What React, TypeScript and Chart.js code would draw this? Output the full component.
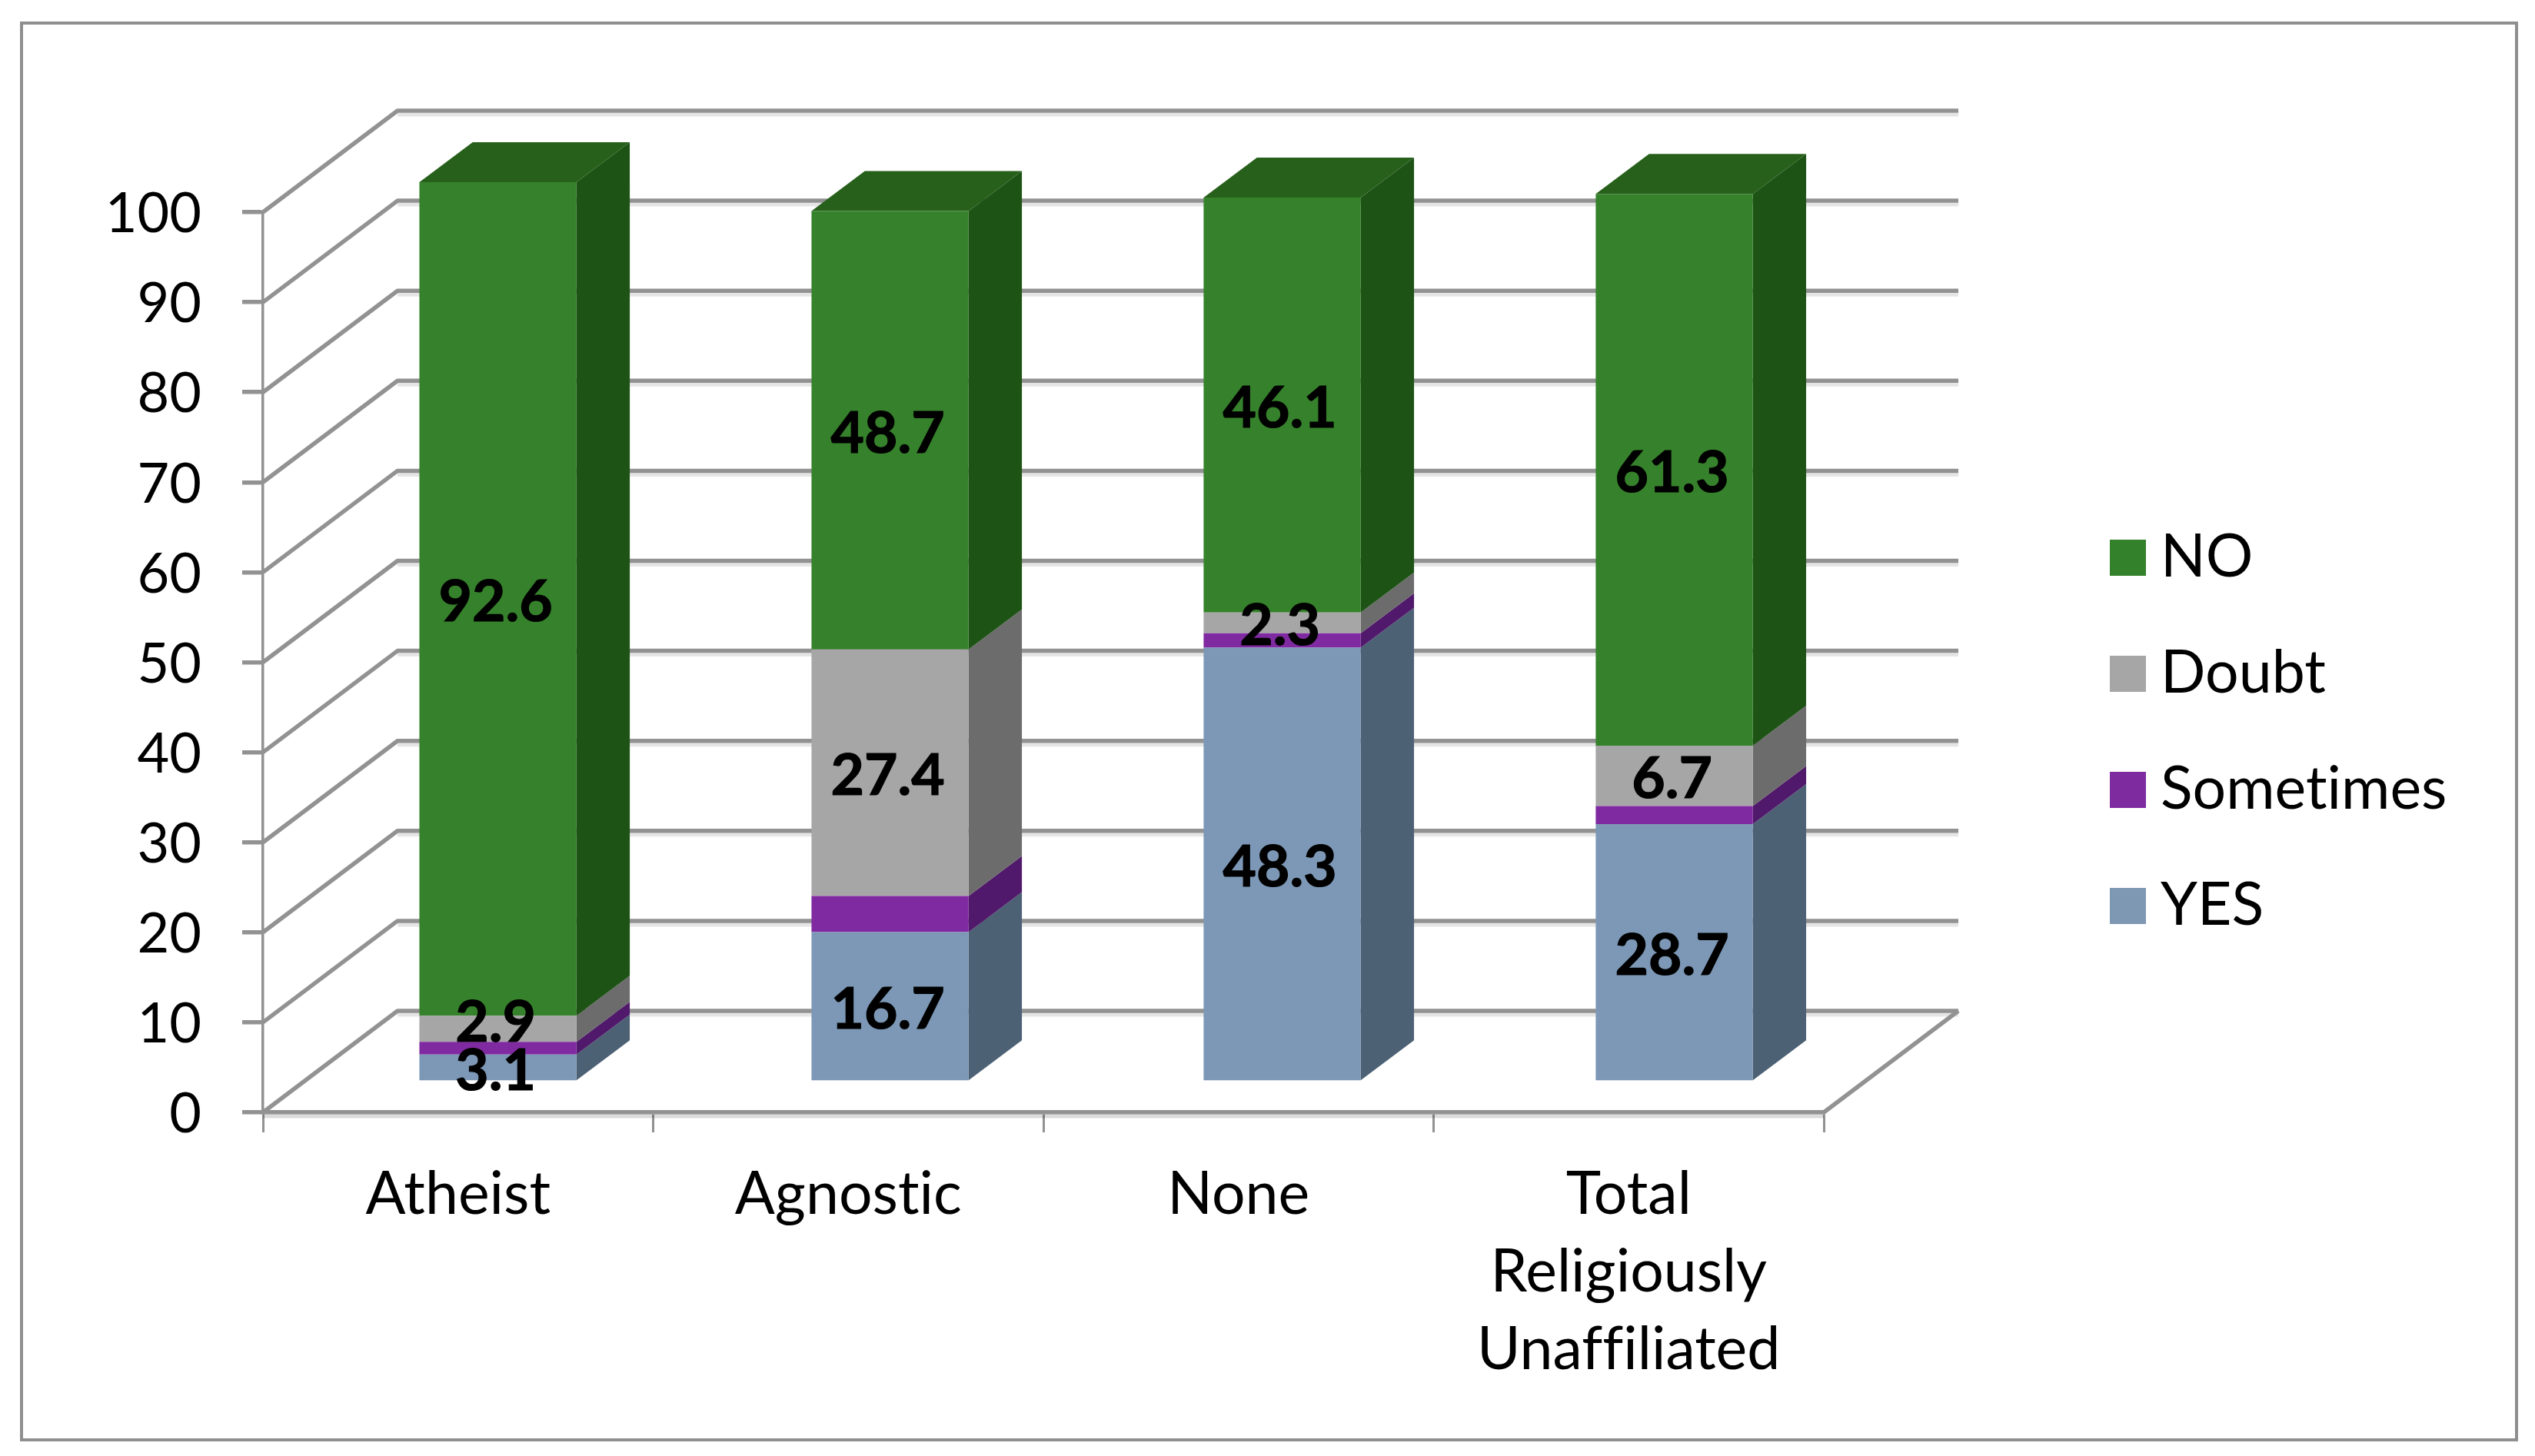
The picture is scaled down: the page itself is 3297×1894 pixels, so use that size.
import React, { useEffect, useRef } from "react";
import { Chart, registerables } from "chart.js";

Chart.register(...registerables);

const categories = ["Atheist", "Agnostic", "None", ["Total", "Religiously", "Unaffiliated"]];
const yesValues = [3.1, 16.7, 48.3, 28.7];
const sometimesValues = [1.4, 4.0, 1.6, 2.0];
const doubtValues = [2.9, 27.4, 2.3, 6.7];
const noValues = [92.6, 48.7, 46.1, 61.3];

const FONT = "Lato";
const GRID = "#929292";
const WALL_DX = 175;
const WALL_DY = -132;
const BAR_DX = 50.6;
const BAR_DY = -39;
const BAR_X_SCALE = 1.0049;
const SIDE_DX = 69;
const SIDE_DY = -52;

const polygon = (ctx: CanvasRenderingContext2D, pts: number[][], fill: string) => {
  ctx.beginPath();
  pts.forEach((p, i) => (i ? ctx.lineTo(p[0], p[1]) : ctx.moveTo(p[0], p[1])));
  ctx.closePath();
  ctx.fillStyle = fill;
  ctx.fill();
};

const stroke = (ctx: CanvasRenderingContext2D, pts: number[][], color: string, width: number) => {
  ctx.beginPath();
  pts.forEach((p, i) => (i ? ctx.lineTo(p[0], p[1]) : ctx.moveTo(p[0], p[1])));
  ctx.strokeStyle = color;
  ctx.lineWidth = width;
  ctx.lineJoin = "round";
  ctx.stroke();
};

const framePlugin = {
  id: "frame",
  beforeDraw(chart: any) {
    const { ctx, width, height } = chart;
    ctx.save();
    ctx.fillStyle = "#ffffff";
    ctx.fillRect(0, 0, width, height);
    ctx.strokeStyle = "#8f8f8f";
    ctx.lineWidth = 4;
    ctx.strokeRect(28, 30, 3245, 1843);
    ctx.restore();
    // A tiny spacing turns off Lato's "ti" ligature for all canvas text.
    ctx.letterSpacing = "0.01px";
  },
};

const walls3dPlugin = {
  id: "walls3d",
  beforeDatasetsDraw(chart: any) {
    const { ctx, chartArea, scales } = chart;
    const { left, right } = chartArea;
    ctx.save();
    scales.y.ticks.forEach((t: any) => {
      const y = scales.y.getPixelForValue(t.value);
      const backY = y + WALL_DY;
      stroke(ctx, [[left + WALL_DX, backY + 5], [right + WALL_DX, backY + 5]], "rgba(0,0,0,0.10)", 5);
      stroke(ctx, [[left, y], [left + WALL_DX, backY], [right + WALL_DX, backY]], GRID, 5.5);
    });
    const y0 = scales.y.getPixelForValue(0);
    stroke(ctx, [[right, y0], [right + WALL_DX, y0 + WALL_DY]], GRID, 5.5);
    stroke(ctx, [[left, y0 + 5], [right, y0 + 5]], "rgba(0,0,0,0.14)", 5);
    ctx.restore();

    ctx.save();
    ctx.translate(left + BAR_DX, BAR_DY);
    ctx.scale(BAR_X_SCALE, 1);
    ctx.translate(-left, 0);
    const sets = chart.data.datasets;
    sets.forEach((ds: any, di: number) => {
      chart.getDatasetMeta(di).data.forEach((bar: any) => {
        const { x, y, base, width } = bar.getProps(["x", "y", "base", "width"], true);
        const r = x + width / 2;
        const l = x - width / 2;
        polygon(
          ctx,
          [[r, y], [r + SIDE_DX, y + SIDE_DY], [r + SIDE_DX, base + SIDE_DY], [r, base]],
          ds.sideColor
        );
        if (di === sets.length - 1) {
          polygon(ctx, [[l, y], [l + SIDE_DX, y + SIDE_DY], [r + SIDE_DX, y + SIDE_DY], [r, y]], ds.topColor);
        }
      });
    });
    // The front faces are drawn by Chart.js inside this same shifted frame.
  },
  afterDatasetsDraw(chart: any) {
    const { ctx, width, chartArea } = chart;
    ctx.restore();

    ctx.save();
    ctx.fillStyle = "#000000";
    ctx.strokeStyle = "#000000";
    ctx.lineWidth = 1.2;
    ctx.font = `bold 75px ${FONT}`;
    ctx.textAlign = "center";
    ctx.textBaseline = "middle";
    chart.data.datasets.forEach((ds: any, di: number) => {
      if (!ds.showValue) return;
      chart.getDatasetMeta(di).data.forEach((bar: any, i: number) => {
        const { x, y, base } = bar.getProps(["x", "y", "base"], true);
        const small = ds.data[i] === 2.9 ? -13 : 0;
        const px = chartArea.left + BAR_DX + (x - chartArea.left) * BAR_X_SCALE;
        const text = ds.data[i].toFixed(1);
        const py = (y + base) / 2 + BAR_DY + 5 + small;
        ctx.fillText(text, px - 3, py);
        ctx.strokeText(text, px - 3, py);
      });
    });

    // legend, reversed series order as in the reference
    const legendLeft = width - 553;
    ctx.textAlign = "left";
    ctx.font = `77px ${FONT}`;
    [...chart.data.datasets].reverse().forEach((ds: any, i: number) => {
      const top = 702 + i * 151;
      ctx.fillStyle = ds.legendColor;
      ctx.fillRect(legendLeft, top, 47, 47);
      ctx.fillStyle = "#000000";
      ctx.fillText(ds.label, legendLeft + 66, top + 23);
    });
    ctx.restore();
  },
};

export default function App() {
  const ref = useRef<HTMLCanvasElement>(null);
  useEffect(() => {
    const bar = { barPercentage: 0.4006, categoryPercentage: 1, borderWidth: 0, clip: false as any };
    const chart = new Chart(ref.current!, {
      type: "bar",
      data: {
        labels: categories as any,
        datasets: [
          { label: "YES", data: yesValues, backgroundColor: "#7c98b6", legendColor: "#7e98b3", sideColor: "#4d6175", showValue: true, ...bar },
          { label: "Sometimes", data: sometimesValues, backgroundColor: "#802aa1", legendColor: "#7f2ba0", sideColor: "#50196b", showValue: false, ...bar },
          { label: "Doubt", data: doubtValues, backgroundColor: "#a6a6a6", legendColor: "#a6a6a6", sideColor: "#6c6c6c", showValue: true, ...bar },
          { label: "NO", data: noValues, backgroundColor: "#36812b", legendColor: "#33812b", sideColor: "#1e5316", topColor: "#27601b", showValue: true, ...bar },
        ] as any,
      },
      options: {
        responsive: false,
        devicePixelRatio: 1,
        animation: false,
        layout: { padding: { left: 0, top: 276, right: 925, bottom: 0 } },
        plugins: { legend: { display: false }, tooltip: { enabled: false } },
        scales: {
          x: {
            stacked: true,
            afterFit: (s: any) => { s.height = 447; },
            border: { color: GRID, width: 5.5 },
            grid: { offset: true, drawOnChartArea: false, color: GRID, tickLength: 26, lineWidth: 3 },
            ticks: {
              color: "#000000",
              padding: 31,
              maxRotation: 0,
              font: { family: FONT, size: 77, lineHeight: 1.31 },
            },
          },
          y: {
            stacked: true,
            min: 0,
            max: 100,
            afterFit: (s: any) => { s.width = 342; },
            border: { color: GRID, width: 3.5 },
            grid: { drawOnChartArea: false, color: GRID, tickLength: 27, lineWidth: 5.5 },
            ticks: {
              stepSize: 10,
              color: "#000000",
              padding: 53,
              labelOffset: 3,
              font: { family: FONT, size: 72 },
            },
          },
        },
      },
      plugins: [framePlugin, walls3dPlugin],
    } as any);
    return () => chart.destroy();
  }, []);
  return (
    <div style={{ position: "absolute", left: 0, top: 0, width: 3297, height: 1894 }}>
      <canvas ref={ref} width={3297} height={1894} style={{ display: "block" }} />
    </div>
  );
}
